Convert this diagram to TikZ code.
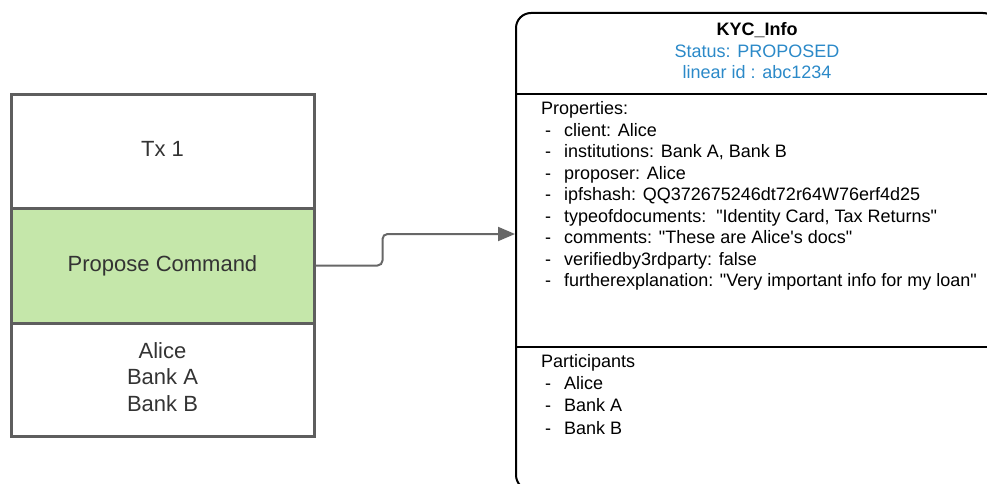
\documentclass[tikz,border=0pt]{standalone}
\usepackage{fontspec}
\setmainfont{Liberation Sans}
\usetikzlibrary{arrows.meta}
\definecolor{boxgray}{HTML}{5E5E5E}
\definecolor{txtgray}{HTML}{333333}
\definecolor{cmdgreen}{HTML}{C5E7AA}
\definecolor{statblue}{HTML}{2B89C8}
\definecolor{linkgray}{HTML}{676767}
\tikzset{
  txcell/.style={draw=boxgray, line width=3pt, minimum width=303pt, inner sep=0pt,
    text=txtgray, align=center},
  txline/.style={anchor=base, inner sep=0pt, text=txtgray, font=\fontsize{22}{26}\selectfont},
  statebox/.style={draw=black, line width=2pt, rounded corners=15pt, inner sep=0pt},
  sline/.style={anchor=base west, inner sep=0pt, font=\fontsize{18}{22}\selectfont},
  tline/.style={anchor=base, inner sep=0pt, font=\fontsize{18}{22}\selectfont},
  conn/.style={draw=linkgray, line width=2pt, rounded corners=5pt,
    -{Triangle[length=17pt,width=14pt]}},
}
\newcommand{\itemdash}[1]{\makebox[19pt][l]{-}#1}
\newcommand{\dq}{\textquotedbl}
\begin{document}
\begin{tikzpicture}[x=1pt,y=-1pt]
  \useasboundingbox (0,0) rectangle (987,484);
  \clip (0,0) rectangle (987,484);

  % transaction column
  \node[txcell, minimum height=113pt] (txhead) at (162.5,151.5) {};
  \node[txcell, fill=cmdgreen, minimum height=115pt] (cmd) at (162.5,265.5) {};
  \node[txcell, minimum height=113pt] (parts) at (162.5,379.5) {};
  \node[txline] (txlabel) at (162.5,156.7) {Tx 1};
  \node[txline] (cmdlabel) at (162.5,271) {Propose Command};
  \node[txline] (pa) at (162.5,358.3) {Alice};
  \node[txline] (pb) at (162.5,384.8) {Bank A};
  \node[txline] (pc) at (162.5,411.2) {Bank B};

  % state box
  \node[statebox, minimum width=482pt, minimum height=477pt] (kyc) at (757,251.5) {};
  \draw[line width=2pt] (kyc.west |- 0,94) -- (kyc.east |- 0,94);
  \draw[line width=2pt] (kyc.west |- 0,347) -- (kyc.east |- 0,347);

  \node[tline, font=\bfseries\fontsize{18}{22}\selectfont] (title) at (757,35.7) {KYC\_Info};
  \node[tline, text=statblue] (status) at (757,57.3) {Status: PROPOSED};
  \node[tline, text=statblue] (linid) at (757,79) {linear id : abc1234};

  \node[sline] (prophead) at (541,114.5) {Properties:};
  \foreach \i/\t in {1/{client: Alice},
                     2/{institutions: Bank A, Bank B},
                     3/{proposer: Alice},
                     4/{ipfshash: QQ372675246dt72r64W76erf4d25},
                     5/{typeofdocuments:\ \ \dq Identity Card, Tax Returns\dq},
                     6/{comments: \dq These are Alice\textquotesingle s docs\dq},
                     7/{verifiedby3rdparty: false},
                     8/{furtherexplanation: \dq Very important info for my loan\dq}}
    \node[sline] (prop\i) at (545,114.5+21.5*\i) {\itemdash{\t}};

  \node[sline] (parthead) at (541,367.7) {Participants};
  \foreach \i/\t in {1/Alice, 2/Bank A, 3/Bank B}
    \node[sline] (part\i) at (545,367.7+22.1*\i) {\itemdash{\t}};

  % command output link
  \coordinate (entry) at (0,234);
  \draw[conn] (cmd.east) -- ++(67,0) |- (kyc.west |- entry);
\end{tikzpicture}
\end{document}
